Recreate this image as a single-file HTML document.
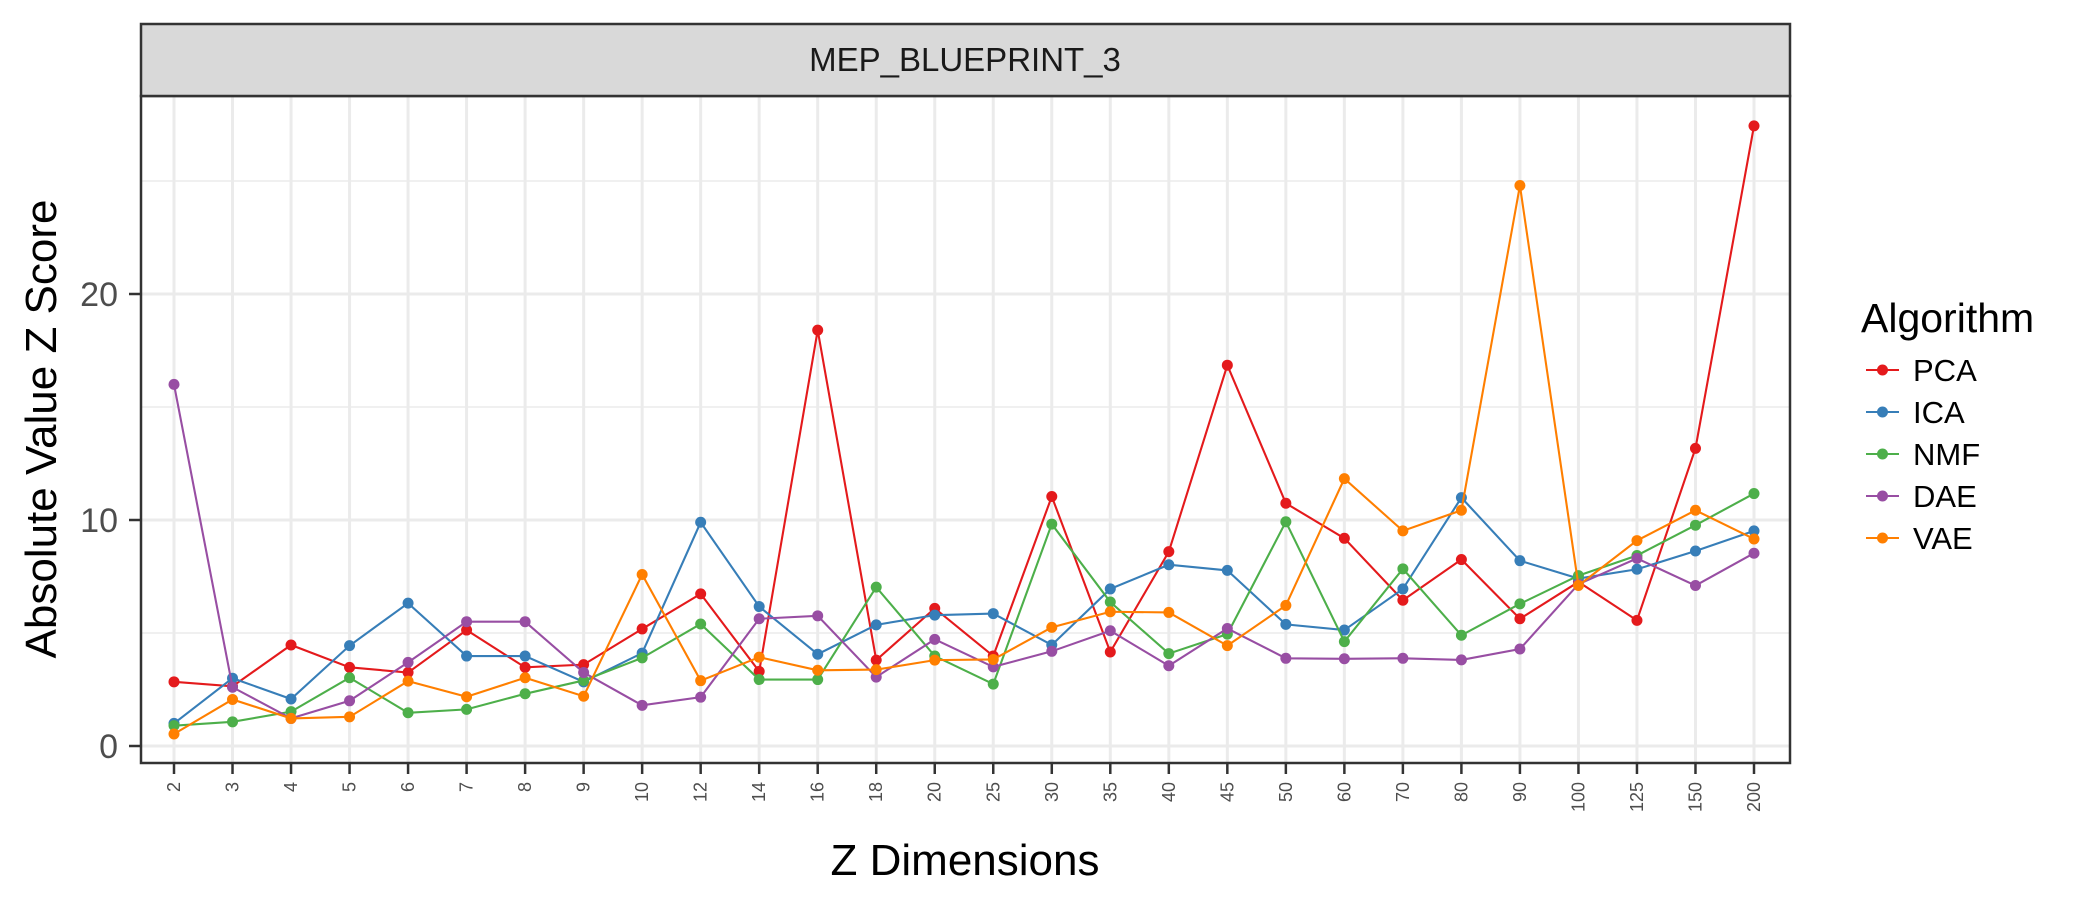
<!DOCTYPE html>
<html><head><meta charset="utf-8"><style>
html,body{margin:0;padding:0;background:#fff;}
svg{display:block;font-family:"Liberation Sans",Arial,sans-serif;}
</style></head><body>
<svg id="chart" width="2100" height="900" viewBox="0 0 2100 900">
<rect x="0" y="0" width="2100" height="900" fill="#fff"/>
<g id="grid"></g>
<g id="series"></g>
<rect x="141" y="96" width="1649" height="667" fill="none" stroke="#333" stroke-width="2.5"/>
<rect x="141" y="24" width="1649" height="72" fill="#d9d9d9" stroke="#333" stroke-width="2.5"/>
<text x="965" y="71" font-size="33" text-anchor="middle" fill="#1a1a1a">MEP_BLUEPRINT_3</text>
<g id="axes"></g>
<text transform="translate(56,429) rotate(-90)" font-size="44" text-anchor="middle" fill="#000">Absolute Value Z Score</text>
<text x="965" y="875" font-size="44" text-anchor="middle" fill="#000">Z Dimensions</text>
<text x="1861" y="332" font-size="41" fill="#000">Algorithm</text>
<g id="legend"></g>
</svg>
<script>
const categories = ["2","3","4","5","6","7","8","9","10","12","14","16","18","20","25","30","35","40","45","50","60","70","80","90","100","125","150","200"];
const seriesNames = ["PCA","ICA","NMF","DAE","VAE"];
const seriesColors = ["#e41a1c","#377eb8","#4daf4a","#984ea3","#ff7f00"];
const pcaValues = [2.84,2.64,4.47,3.48,3.25,5.13,3.48,3.6,5.18,6.73,3.3,18.4,3.8,6.09,3.98,11.04,4.16,8.6,16.85,10.74,9.19,6.45,8.25,5.63,7.26,5.56,13.17,27.44];
const icaValues = [1.0,3.0,2.08,4.44,6.32,3.98,3.98,2.84,4.11,9.9,6.17,4.06,5.36,5.79,5.86,4.47,6.95,8.02,7.77,5.38,5.13,6.95,10.99,8.2,7.41,7.82,8.63,9.52];
const nmfValues = [0.9,1.07,1.52,3.02,1.47,1.62,2.31,2.9,3.9,5.4,2.94,2.94,7.03,3.98,2.74,9.82,6.37,4.09,4.95,9.92,4.62,7.84,4.9,6.29,7.54,8.43,9.77,11.17];
const daeValues = [16.0,2.6,1.22,2.0,3.7,5.5,5.5,3.25,1.8,2.16,5.63,5.76,3.05,4.72,3.5,4.19,5.1,3.55,5.2,3.88,3.86,3.88,3.81,4.29,7.16,8.3,7.1,8.53];
const vaeValues = [0.53,2.06,1.22,1.29,2.87,2.18,3.02,2.2,7.59,2.89,3.93,3.35,3.38,3.8,3.83,5.25,5.94,5.91,4.44,6.22,11.83,9.52,10.43,24.8,7.1,9.09,10.43,9.16];
const yTicks = [0,10,20];
const yMinor = [5,15,25];

const NS="http://www.w3.org/2000/svg";
const PL=141, PR=1790, PT=96, PB=763;
const X0=174, XN=1754, Y0=746, YPU=22.6;
function xScale(i){return X0+(XN-X0)*i/(categories.length-1);}
function yScale(v){return Y0-v*YPU;}
function mk(tag,attrs,parent){const e=document.createElementNS(NS,tag);for(const k in attrs)e.setAttribute(k,attrs[k]);parent.appendChild(e);return e;}

const grid=document.getElementById('grid');
mk('rect',{x:PL,y:PT,width:PR-PL,height:PB-PT,fill:'#fff'},grid);
yMinor.forEach(v=>{const y=yScale(v);if(y<PT)return;const l=mk('line',{x1:PL,x2:PR,y1:y,y2:y,stroke:'#ebebeb','stroke-width':1.5},grid);

});
yTicks.forEach(v=>{const y=yScale(v);const l=mk('line',{x1:PL,x2:PR,y1:y,y2:y,stroke:'#ebebeb','stroke-width':3},grid);

});
categories.forEach((c,i)=>{const x=xScale(i);const l=mk('line',{x1:x,x2:x,y1:PT,y2:PB,stroke:'#ebebeb','stroke-width':3},grid);

});

const axes=document.getElementById('axes');
yTicks.forEach(v=>{const y=yScale(v);
const t=mk('line',{x1:129,x2:141,y1:y,y2:y,stroke:'#333','stroke-width':2.5},axes);


const tx=mk('text',{x:118,y:y+12,'font-size':34,'text-anchor':'end',fill:'#4d4d4d'},axes);tx.textContent=v;

});
categories.forEach((c,i)=>{const x=xScale(i);
const t=mk('line',{x1:x,x2:x,y1:PB,y2:PB+11,stroke:'#333','stroke-width':2.5},axes);


const tx=mk('text',{transform:`translate(${x+6},${PB+19}) rotate(-90)`,'font-size':18,'text-anchor':'end',fill:'#4d4d4d'},axes);tx.textContent=c;

});

const allValues=[pcaValues,icaValues,nmfValues,daeValues,vaeValues];
const sg=document.getElementById('series');
allValues.forEach((vals,s)=>{
  const g=mk('g',{},sg);
  
  
  const pts=vals.map((v,i)=>xScale(i)+','+yScale(v)).join(' ');
  const pl=mk('polyline',{points:pts,fill:'none',stroke:seriesColors[s],'stroke-width':2.1},g);
  
  
  vals.forEach((v,i)=>{const c=mk('circle',{cx:xScale(i),cy:yScale(v),r:5.5,fill:seriesColors[s]},g);
  
  });
});

const lg=document.getElementById('legend');
seriesNames.forEach((n,s)=>{const y=370+s*42;
  const g=mk('g',{},lg);
  
  
  mk('line',{x1:1866,x2:1899,y1:y,y2:y,stroke:seriesColors[s],'stroke-width':2.1},g);
  mk('circle',{cx:1882.5,cy:y,r:5.5,fill:seriesColors[s]},g);
  const t=mk('text',{x:1913,y:y+11,'font-size':31,fill:'#000'},g);t.textContent=n;
});
</script>
</body></html>
